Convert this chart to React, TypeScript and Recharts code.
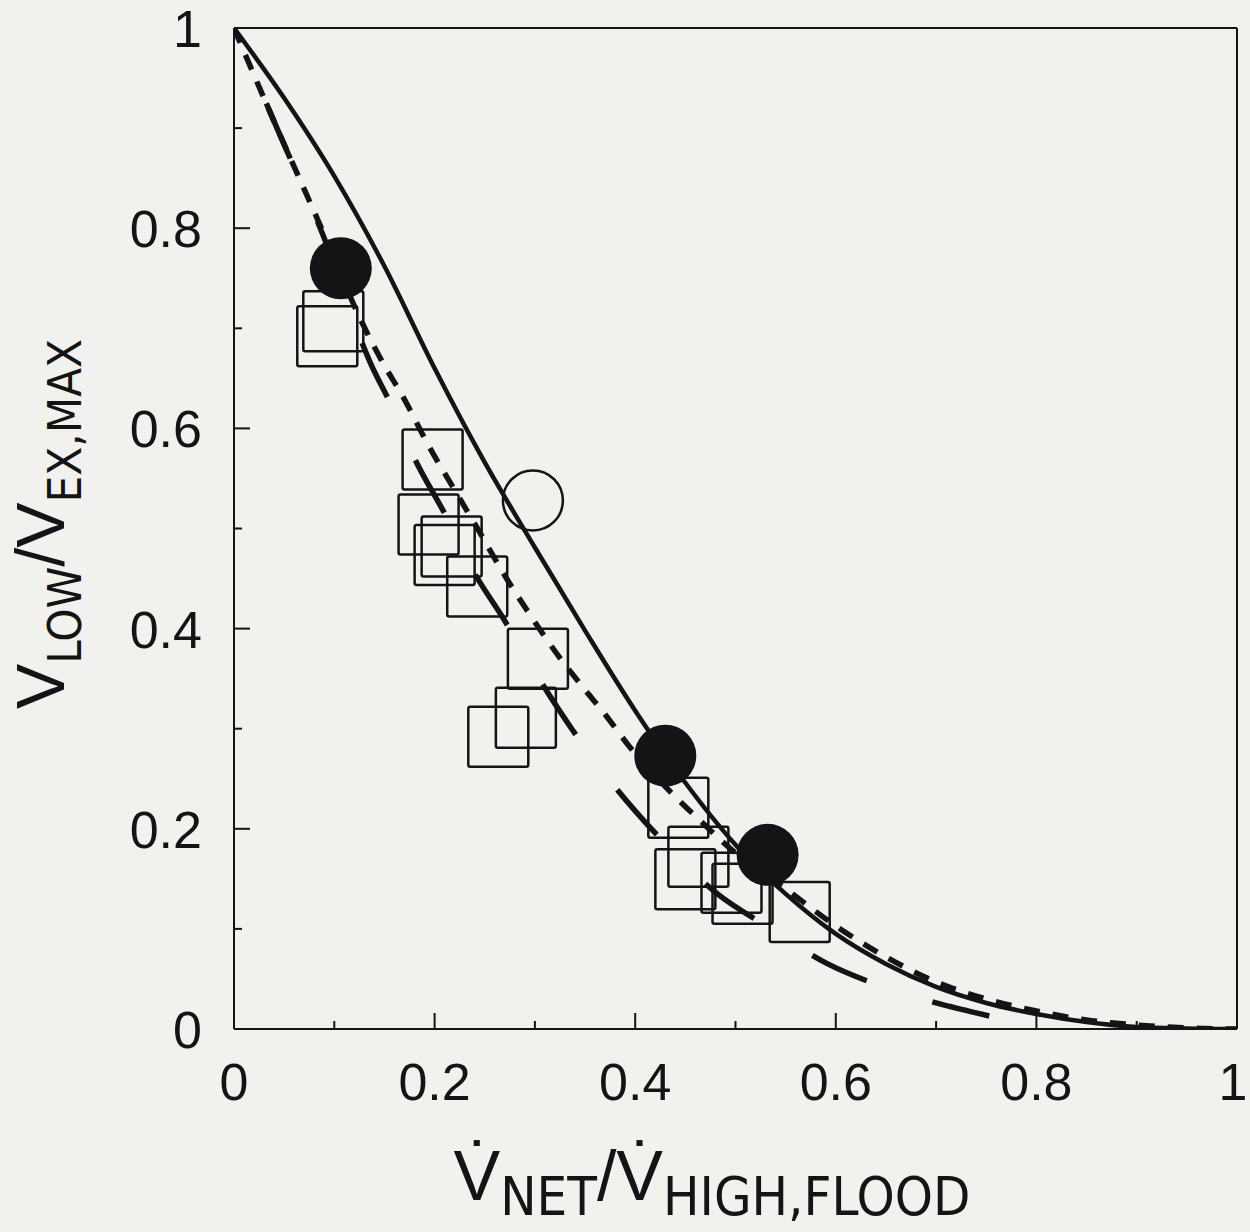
import { ComposedChart, Line, Scatter, XAxis, YAxis, ReferenceLine } from 'recharts'

const INK = '#141414'
const PAPER = '#f1f1ed'
const FONT = '"Liberation Sans", Arial, sans-serif'
const NARROW = '"Liberation Sans Narrow", "DejaVu Sans Condensed", "Liberation Sans", sans-serif'

// axis ticks (minor every 0.1, labels on every 0.2)
const axisTicks = [0, 0.1, 0.2, 0.3, 0.4, 0.5, 0.6, 0.7, 0.8, 0.9, 1]

// model curves
const solidX = [0, 0.05, 0.1, 0.15, 0.2, 0.25, 0.3, 0.35, 0.4, 0.45, 0.5, 0.55, 0.6, 0.65, 0.7, 0.75, 0.8, 0.85, 0.9, 0.95, 1]
const solidY = [1, 0.93, 0.852, 0.762, 0.66, 0.566, 0.481, 0.398, 0.318, 0.246, 0.184, 0.135, 0.095, 0.065, 0.042, 0.026, 0.015, 0.007, 0.002, 0.0005, 0]

const shortDashX = [0, 0.032, 0.088, 0.128, 0.151, 0.166, 0.195, 0.225, 0.241, 0.273, 0.291, 0.324, 0.349, 0.371, 0.392, 0.436, 0.467, 0.494, 0.55, 0.6, 0.65, 0.7, 0.75, 0.8, 0.85, 0.9, 0.95, 1]
const shortDashY = [1, 0.925, 0.798, 0.705, 0.661, 0.636, 0.581, 0.53, 0.503, 0.448, 0.42, 0.372, 0.34, 0.313, 0.285, 0.236, 0.206, 0.181, 0.14, 0.103, 0.072, 0.047, 0.03, 0.018, 0.009, 0.004, 0.001, 0]

const longDashX = [0, 0.045, 0.088, 0.138, 0.156, 0.181, 0.21, 0.24, 0.268, 0.304, 0.338, 0.379, 0.4225, 0.482, 0.534, 0.59, 0.645, 0.7, 0.753]
const longDashY = [1, 0.895, 0.795, 0.661, 0.625, 0.568, 0.515, 0.455, 0.411, 0.35, 0.298, 0.243, 0.193, 0.135, 0.101, 0.066, 0.043, 0.026, 0.013]

// measurements
const squareX = [0.099, 0.093, 0.198, 0.194, 0.217, 0.21, 0.2425, 0.303, 0.291, 0.2635, 0.443, 0.463, 0.45, 0.496, 0.507, 0.564]
const squareY = [0.707, 0.692, 0.569, 0.504, 0.482, 0.4735, 0.442, 0.37, 0.311, 0.292, 0.221, 0.172, 0.1495, 0.146, 0.135, 0.117]

const filledX = [0.1065, 0.43, 0.532]
const filledY = [0.76, 0.273, 0.174]

const openX = [0.298]
const openY = [0.528]

const zip = (xs: number[], ys: number[]) => xs.map((x, i) => ({ x, y: ys[i] }))

const solidCurve = zip(solidX, solidY)
const shortDashCurve = zip(shortDashX, shortDashY)
const longDashCurve = zip(longDashX, longDashY)
const squares = zip(squareX, squareY)
const filled = zip(filledX, filledY)
const open = zip(openX, openY)

const fmt = (v: number) => (v === 0 ? '0' : v === 1 ? '1' : String(v))
const isMajor = (v: number) => Math.round(v * 10) % 2 === 0

function XTick(props: any) {
  const { x, y, payload } = props
  const v = payload.value
  const major = isMajor(v)
  return (
    <g>
      <line x1={x} y1={y} x2={x} y2={y - (major ? 16 : 8)} stroke={INK} strokeWidth={2} />
      {major && (
        <text x={v === 1 ? x - 4 : x} y={y + 71} textAnchor="middle" fontSize={52} fontFamily={FONT} fill={INK}>
          {fmt(v)}
        </text>
      )}
    </g>
  )
}

function YTick(props: any) {
  const { x, y, payload } = props
  const v = payload.value
  const major = isMajor(v)
  return (
    <g>
      <line x1={x} y1={y} x2={x + (major ? 16 : 8)} y2={y} stroke={INK} strokeWidth={2} />
      {major && (
        <text x={x - 32} y={y + 19} textAnchor="end" fontSize={52} fontFamily={FONT} fill={INK}>
          {fmt(v)}
        </text>
      )}
    </g>
  )
}

const SquareMark = (p: any) => (
  <rect x={p.cx - 30} y={p.cy - 30} width={60} height={60} rx={2} fill="none" stroke={INK} strokeWidth={2.5} />
)
const FilledMark = (p: any) => <circle cx={p.cx} cy={p.cy} r={31} fill={INK} />
const OpenMark = (p: any) => <circle cx={p.cx} cy={p.cy} r={30} fill="none" stroke={INK} strokeWidth={2.5} />

function XTitle() {
  return (
    <text x={712} y={1200} textAnchor="middle" fill={INK} fontFamily={FONT}>
      <tspan fontSize={70}>{'V\u0307'}</tspan>
      <tspan fontSize={54} fontFamily={NARROW} dy={15}>NET</tspan>
      <tspan fontSize={70} dy={-15}>/</tspan>
      <tspan fontSize={70}>{'V\u0307'}</tspan>
      <tspan fontSize={54} fontFamily={NARROW} dy={15}>HIGH,FLOOD</tspan>
    </text>
  )
}

function YTitle() {
  return (
    <text x={64} y={524} textAnchor="middle" fill={INK} fontFamily={FONT} transform="rotate(-90 64 524)">
      <tspan fontSize={68}>V</tspan>
      <tspan fontSize={47} fontFamily={NARROW} dy={17}>LOW</tspan>
      <tspan fontSize={68} dy={-17}>/</tspan>
      <tspan fontSize={68}>V</tspan>
      <tspan fontSize={47} fontFamily={NARROW} dy={17}>EX,MAX</tspan>
    </text>
  )
}

export default function App() {
  return (
    <div style={{ position: 'absolute', left: 0, top: 0, width: 1250, height: 1232, background: PAPER }}>
      <ComposedChart width={1250} height={1232} margin={{ top: 28, right: 13, bottom: 0, left: 0 }}>
        <XAxis
          dataKey="x"
          type="number"
          domain={[0, 1]}
          ticks={axisTicks}
          interval={0}
          tick={<XTick />}
          tickLine={false}
          tickSize={0}
          tickMargin={0}
          height={203}
          axisLine={{ stroke: INK, strokeWidth: 2 }}
          allowDataOverflow
          label={{ content: () => <XTitle /> }}
        />
        <YAxis
          dataKey="y"
          type="number"
          domain={[0, 1]}
          ticks={axisTicks}
          interval={0}
          tick={<YTick />}
          tickLine={false}
          tickSize={0}
          tickMargin={0}
          width={234}
          axisLine={{ stroke: INK, strokeWidth: 2 }}
          allowDataOverflow
          label={{ content: () => <YTitle /> }}
        />
        <ReferenceLine x={1} stroke={INK} strokeWidth={2} />
        <ReferenceLine y={1} stroke={INK} strokeWidth={2} />
        <Scatter data={squares} shape={SquareMark} isAnimationActive={false} />
        <Line data={solidCurve} dataKey="y" type="monotone" stroke={INK} strokeWidth={4.5} dot={false} isAnimationActive={false} />
        <Line data={shortDashCurve} dataKey="y" type="monotone" stroke={INK} strokeWidth={5.5} strokeDasharray="16 13" dot={false} isAnimationActive={false} />
        <Line data={longDashCurve} dataKey="y" type="monotone" stroke={INK} strokeWidth={5.5} strokeDasharray="60 69" strokeDashoffset={47} dot={false} isAnimationActive={false} />
        <Scatter data={filled} shape={FilledMark} isAnimationActive={false} />
        <Scatter data={open} shape={OpenMark} isAnimationActive={false} />
      </ComposedChart>
    </div>
  )
}
